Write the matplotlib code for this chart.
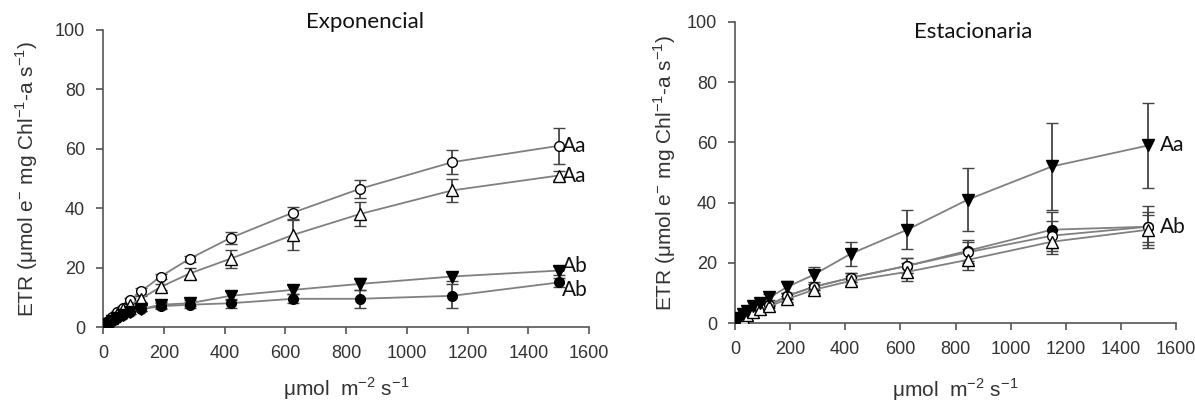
import numpy as np
import matplotlib
matplotlib.use('Agg')
import matplotlib.pyplot as plt

# irradiance steps (umol m-2 s-1)
par = [0, 15, 30, 45, 65, 90, 125, 190, 285, 420, 625, 845, 1150, 1500]

# Exponencial
exp_open_circle = [0, 2, 3.5, 5, 6.5, 9, 12, 17, 23, 30, 38.5, 46.5, 55.5, 61]
exp_open_circle_err = [0, 0.5, 0.5, 0.5, 0.5, 0.8, 1, 1, 1, 2, 2, 3, 4, 6]
exp_open_tri = [0, 1.5, 3, 4.5, 6, 7.5, 9.5, 13.5, 18, 23, 31, 38, 46, 51]
exp_open_tri_err = [0, 0.5, 0.5, 0.5, 0.5, 0.8, 1, 1, 2, 3, 5, 4, 4, 1.5]
exp_fill_tri = [0, 1, 2, 3, 4, 5, 6, 7.5, 8, 10.5, 12.5, 14.5, 17, 19]
exp_fill_tri_err = [0, 0.3, 0.3, 0.3, 0.3, 0.5, 0.5, 1, 1, 1.5, 1.5, 2, 1.5, 1.5]
exp_fill_circle = [0, 1, 2, 3, 4, 5, 6, 7, 7.5, 8, 9.5, 9.5, 10.5, 15]
exp_fill_circle_err = [0, 0.3, 0.3, 0.3, 0.3, 0.5, 0.5, 1, 1, 1.5, 1.5, 3, 4, 1.5]

# Estacionaria
est_fill_tri = [0, 1.5, 3, 4, 5.5, 6.5, 8.5, 12, 16, 23, 31, 41, 52, 59]
est_fill_tri_err = [0, 0.5, 0.5, 0.5, 0.5, 0.8, 1, 2, 2.5, 4, 6.5, 10.5, 14.5, 14]
est_fill_circle = [0, 1, 2, 3, 4, 5, 6, 9, 12, 15, 19, 24, 31, 32]
est_fill_circle_err = [0, 0.3, 0.3, 0.3, 0.3, 0.5, 0.5, 1, 1, 1.5, 2.5, 3.5, 6, 5]
est_open_circle = [0, 1, 2, 3, 4, 5, 6, 9, 12, 15, 19, 23.5, 29, 32]
est_open_circle_err = [0, 0.3, 0.3, 0.3, 0.3, 0.5, 0.5, 1, 1, 1.5, 2.5, 3.5, 5, 7]
est_open_tri = [0, 1, 1.8, 2.7, 3.6, 4.5, 5.5, 8, 11, 14, 17, 21, 27, 31]
est_open_tri_err = [0, 0.3, 0.3, 0.3, 0.3, 0.5, 0.5, 1, 1, 1.5, 3, 3.5, 4, 5]

ylabel = r'ETR ($\mathregular{\mu}$mol e$^{\mathregular{-}}$ mg Chl$^{\mathregular{-1}}$-a s$^{\mathregular{-1}}$)'
xlabel = r'$\mathregular{\mu}$mol  m$^{\mathregular{-2}}$ s$^{\mathregular{-1}}$'

plt.rcParams['font.family'] = ['Liberation Sans', 'DejaVu Sans']
plt.rcParams['mathtext.fontset'] = 'custom'
plt.rcParams['mathtext.rm'] = 'Liberation Sans'

fig = plt.figure(figsize=(11.95, 4.04), dpi=100)
ax1 = fig.add_axes([103 / 1195, 1 - 327 / 404, 486 / 1195, 297 / 404])
ax2 = fig.add_axes([735 / 1195, 1 - 323 / 404, 441 / 1195, 301 / 404])

line_col = '#808080'


def series(ax, y, err, marker, face, ms=7):
    ax.errorbar(par, y, yerr=err, color=line_col, lw=1.3, ecolor='#444444',
                elinewidth=1.3, capsize=4.5, capthick=1.3, marker=marker,
                mfc=face, mec='black', mew=1, ms=ms, zorder=3)


series(ax1, exp_open_circle, exp_open_circle_err, 'o', 'white')
series(ax1, exp_open_tri, exp_open_tri_err, '^', 'white', 8)
series(ax1, exp_fill_tri, exp_fill_tri_err, 'v', 'black', 8)
series(ax1, exp_fill_circle, exp_fill_circle_err, 'o', 'black')

series(ax2, est_fill_circle, est_fill_circle_err, 'o', 'black')
series(ax2, est_open_circle, est_open_circle_err, 'o', 'white')
series(ax2, est_open_tri, est_open_tri_err, '^', 'white', 8)
series(ax2, est_fill_tri, est_fill_tri_err, 'v', 'black', 8)

lab_font = dict(fontsize=15, family=['Lato', 'DejaVu Sans'], color='#111111')
ax1.text(1510, exp_open_circle[-1], 'Aa', va='center', ha='left', **lab_font)
ax1.text(1510, exp_open_tri[-1], 'Aa', va='center', ha='left', **lab_font)
ax1.text(1510, exp_fill_tri[-1] + 1.5, 'Ab', va='center', ha='left', **lab_font)
ax1.text(1510, exp_fill_circle[-1] - 2.5, 'Ab', va='center', ha='left', **lab_font)
ax2.text(1540, est_fill_tri[-1], 'Aa', va='center', ha='left', **lab_font)
ax2.text(1540, est_open_circle[-1], 'Ab', va='center', ha='left', **lab_font)

for ax, title, ty, xly, ylx in ((ax1, 'Exponencial', 1.0, -0.163, -0.13),
                                (ax2, 'Estacionaria', 0.94, -0.176, -0.13)):
    ax.set_xlim(0, 1600)
    ax.set_ylim(0, 100)
    ax.set_xticks(np.arange(0, 1601, 200))
    ax.set_yticks(np.arange(0, 101, 20))
    for s in ('top', 'right'):
        ax.spines[s].set_visible(False)
    for s in ('left', 'bottom'):
        ax.spines[s].set_color('#555555')
        ax.spines[s].set_linewidth(1.2)
    ax.tick_params(direction='out', length=5, width=1.2, color='#555555',
                   labelsize=13, labelcolor='#333333', pad=8)
    ax.set_ylabel(ylabel, fontsize=15, color='#333333')
    ax.yaxis.set_label_coords(ylx, 0.5)
    ax.set_xlabel(xlabel, fontsize=15, color='#333333')
    ax.xaxis.set_label_coords(0.5, xly)
    ax.set_title(title, fontsize=16, family=['Lato', 'DejaVu Sans'],
                 color='#111111', x=0.54, y=ty, va='center')

fig.savefig('out.png', dpi=100)
